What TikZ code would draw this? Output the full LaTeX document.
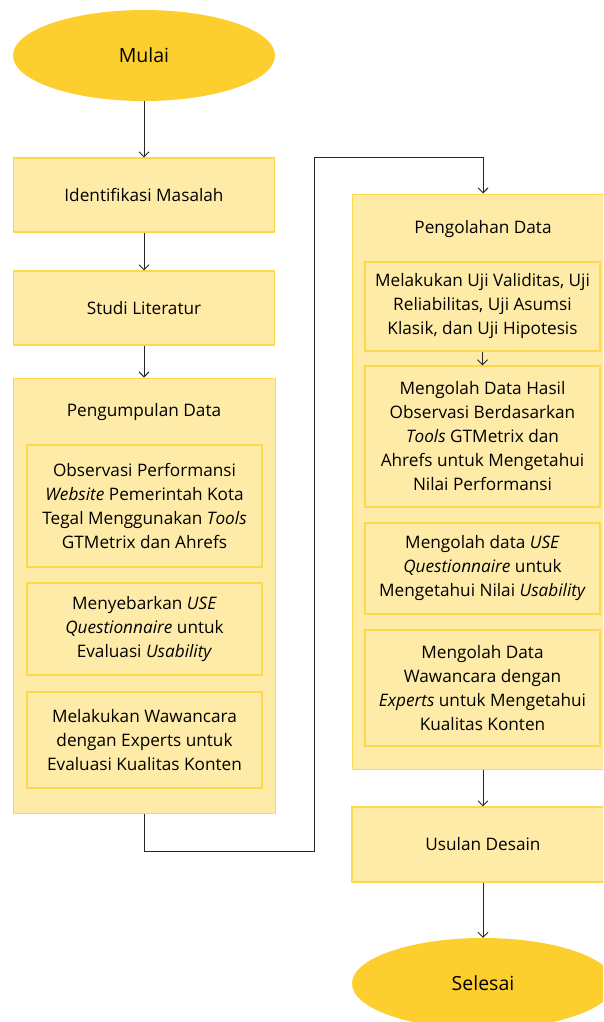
\documentclass[tikz,border=0pt]{standalone}
\usepackage{fontspec}
\setmainfont{Open Sans}
\usetikzlibrary{arrows.meta,shapes.geometric}
\definecolor{gold}{HTML}{FDCF2E}
\definecolor{paleyel}{HTML}{FFEBA8}
\definecolor{edgeyel}{HTML}{FDD84A}
\begin{document}
\begin{tikzpicture}[x=1pt,y=-1pt,
  term/.style={ellipse,fill=gold,draw=none,minimum width=262pt,minimum height=91pt,inner sep=0pt,font=\fontsize{19.5}{24}\selectfont},
  stepbox/.style={rectangle,fill=paleyel,draw=edgeyel,line width=1.2pt,minimum width=261pt,inner sep=0pt,font=\fontsize{17.2}{24}\selectfont,align=center},
  groupbox/.style={rectangle,fill=paleyel,draw=edgeyel,line width=1pt,minimum width=262pt,inner sep=0pt},
  subbox/.style={rectangle,fill=paleyel,draw=edgeyel,line width=1.3pt,minimum width=235pt,inner sep=0pt,font=\fontsize{17.2}{24}\selectfont,align=center},
  title/.style={font=\fontsize{17.2}{24}\selectfont,inner sep=0pt},
  arr/.style={draw=black!85,line width=0.9pt,-{Straight Barb[length=5pt,width=10pt]}}]
\useasboundingbox (0,0) rectangle (603,1022);
\clip (0,0) rectangle (603,1022);

% left column
\node[term] (mulai) at (144,55.5) {Mulai};
\node[stepbox,minimum height=74pt] (idm) at (144,195) {Identifikasi Masalah};
\node[stepbox,minimum height=74pt] (studi) at (144,308) {Studi Literatur};

\node[groupbox,minimum height=435pt] (pk) at (144,595.5) {};
\node[title] (pkt) at (144,412) {Pengumpulan Data};
\node[subbox,minimum height=122pt] (pk1) at (144.5,506) {Observasi Performansi\\\textit{Website} Pemerintah Kota\\Tegal Menggunakan \textit{Tools}\\GTMetrix dan Ahrefs};
\node[subbox,minimum height=92pt] (pk2) at (144.5,629) {Menyebarkan \textit{USE}\\\textit{Questionnaire} untuk\\Evaluasi \textit{Usability}};
\node[subbox,minimum height=96pt] (pk3) at (144.5,740) {Melakukan Wawancara\\dengan Experts untuk\\Evaluasi Kualitas Konten};

% right column
\node[groupbox,minimum height=575pt] (po) at (483,481.5) {};
\node[title] (pot) at (483,229) {Pengolahan Data};
\node[subbox,minimum height=89pt] (po1) at (482.5,306.5) {Melakukan Uji Validitas, Uji\\Reliabilitas, Uji Asumsi\\Klasik, dan Uji Hipotesis};
\node[subbox,minimum height=141pt] (po2) at (482.5,436.5) {Mengolah Data Hasil\\Observasi Berdasarkan\\\textit{Tools} GTMetrix dan\\Ahrefs untuk Mengetahui\\Nilai Performansi};
\node[subbox,minimum height=91pt] (po3) at (482.5,568.5) {Mengolah data \textit{USE}\\\textit{Questionnaire} untuk\\Mengetahui Nilai \textit{Usability}};
\node[subbox,minimum height=116pt] (po4) at (482.5,688) {Mengolah Data\\Wawancara dengan\\\textit{Experts} untuk Mengetahui\\Kualitas Konten};

\node[stepbox,minimum width=262pt,minimum height=75pt] (usul) at (483,844.5) {Usulan Desain};
\node[term] (selesai) at (483,983.5) {Selesai};

% connectors
\coordinate (b2) at (314,851);
\coordinate (b4) at (483,157);
\draw[arr] (mulai) -- (idm);
\draw[arr] (idm) -- (studi);
\draw[arr] (studi) -- (pk);
\draw[arr] (pk.south) |- (b2) |- (b4) -- (po.north);
\draw[arr] (po1) -- (po2);
\draw[arr] (po) -- (usul);
\draw[arr] (usul) -- (selesai);
\end{tikzpicture}
\end{document}
